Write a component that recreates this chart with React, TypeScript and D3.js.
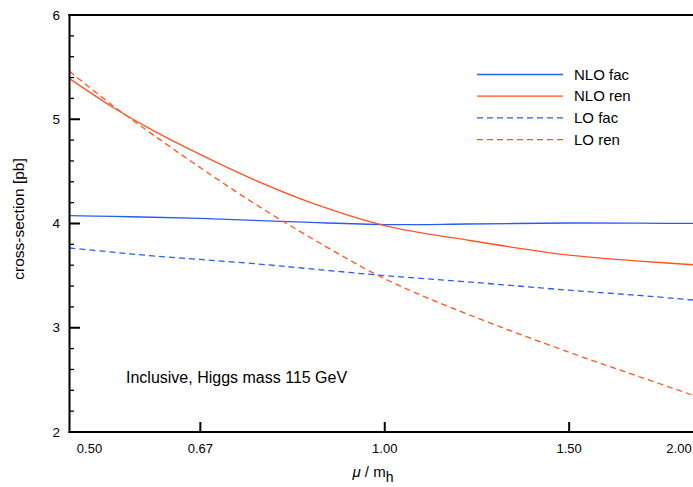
import React from "react";
import * as d3 from "d3";

const muPoints = [0.5, 0.55, 0.6, 0.667, 0.75, 0.85, 1.0, 1.2, 1.5, 1.75, 2.0];
const nloFac = [4.075, 4.068, 4.06, 4.05, 4.03, 4.01, 3.99, 3.995, 4.005, 4.003, 4.0];
const nloRen = [5.39, 5.115, 4.895, 4.66, 4.42, 4.2, 3.98, 3.84, 3.696, 3.64, 3.6];
const loFac = [3.765, 3.725, 3.69, 3.655, 3.615, 3.565, 3.5, 3.44, 3.36, 3.31, 3.26];
const loRen = [5.46, 5.13, 4.855, 4.534, 4.194, 3.863, 3.47, 3.13, 2.765, 2.53, 2.33];

const xTicks = [0.5, 2 / 3, 1.0, 1.5, 2.0];
const xTickLabels = ["0.50", "0.67", "1.00", "1.50", "2.00"];
const yTicks = [2, 3, 4, 5, 6];

const series = [
  { name: "NLO fac", values: nloFac, color: "#2b5cf2", dash: "" },
  { name: "NLO ren", values: nloRen, color: "#ff5522", dash: "" },
  { name: "LO fac", values: loFac, color: "#2b5cf2", dash: "6,4" },
  { name: "LO ren", values: loRen, color: "#ff5522", dash: "6,4" },
];

export default function App() {
  const W = 693;
  const H = 487;
  const left = 69.5;
  const right = 700;
  const top = 15;
  const bottom = 432;
  const x = d3.scaleLog().domain([0.5, 2]).range([left, right]);
  const y = d3.scaleLinear().domain([2, 6]).range([bottom, top]);
  const minor = d3.range(2, 6.001, 0.2).filter((v) => Math.abs(v - Math.round(v)) > 1e-6);
  const line = d3
    .line<number>()
    .x((_, i) => x(muPoints[i]))
    .y((v) => y(v))
    .curve(d3.curveCatmullRom.alpha(0.5));
  const font = "'Liberation Sans', Arial, Helvetica, sans-serif";
  const legX = 477;
  const legY0 = 74.5;
  const legDy = 21.7;

  return (
    <svg
      width={W}
      height={H}
      style={{ position: "absolute", left: 0, top: 0, background: "#fff" }}
      fontFamily={font}
    >
      <rect x={0} y={0} width={W} height={H} fill="#fff" />
      {series.map((s) => (
        <path
          key={s.name}
          d={line(s.values) || ""}
          fill="none"
          stroke={s.color}
          strokeWidth={1.3}
          strokeDasharray={s.dash || undefined}
        />
      ))}
      {/* frame */}
      <line x1={left} x2={left} y1={top - 1} y2={bottom + 1} stroke="#000" strokeWidth={2} />
      <line x1={left - 1} x2={right} y1={top} y2={top} stroke="#000" strokeWidth={2} />
      <line x1={left - 1} x2={right} y1={bottom} y2={bottom} stroke="#000" strokeWidth={2} />
      {/* y ticks */}
      {yTicks.map((t) => (
        <g key={"y" + t}>
          <line x1={left} x2={left + 10.5} y1={y(t)} y2={y(t)} stroke="#000" strokeWidth={2} />
          <text x={60} y={y(t)} dy="0.35em" textAnchor="end" fontSize={13.5} fill="#000">
            {t}
          </text>
        </g>
      ))}
      {minor.map((t) => (
        <line key={"m" + t} x1={left} x2={left + 4.5} y1={y(t)} y2={y(t)} stroke="#000" strokeWidth={1.3} />
      ))}
      {/* x ticks */}
      {xTicks.map((t, i) => {
        const px = x(t);
        const lx = i === 0 ? px + 20 : i === xTicks.length - 1 ? px - 21 : px;
        return (
          <g key={"x" + i}>
            {i > 0 && i < xTicks.length - 1 && (
              <line x1={px} x2={px} y1={bottom} y2={bottom - 10} stroke="#000" strokeWidth={2} />
            )}
            <text x={lx} y={453} textAnchor="middle" fontSize={13} fill="#000">
              {xTickLabels[i]}
            </text>
          </g>
        );
      })}
      {/* axis titles */}
      <text x={373} y={477} textAnchor="middle" fontSize={15} fill="#000">
        <tspan fontStyle="italic">μ</tspan>
        <tspan> / m</tspan>
        <tspan dy={5} fontSize={14}>h</tspan>
      </text>
      <text
        transform={`translate(24, ${219}) rotate(-90)`}
        textAnchor="middle"
        fontSize={15.5}
        fill="#000"
      >
        cross-section [pb]
      </text>
      <text x={126} y={383} fontSize={16} fill="#000">
        Inclusive, Higgs mass 115 GeV
      </text>
      {/* legend */}
      {series.map((s, i) => (
        <g key={"leg" + i}>
          <line
            x1={legX}
            x2={563}
            y1={legY0 + i * legDy}
            y2={legY0 + i * legDy}
            stroke={s.color}
            strokeWidth={1.3}
            strokeDasharray={s.dash || undefined}
          />
          <text x={574} y={legY0 + i * legDy} dy="0.35em" fontSize={15} fill="#000">
            {s.name}
          </text>
        </g>
      ))}
    </svg>
  );
}
